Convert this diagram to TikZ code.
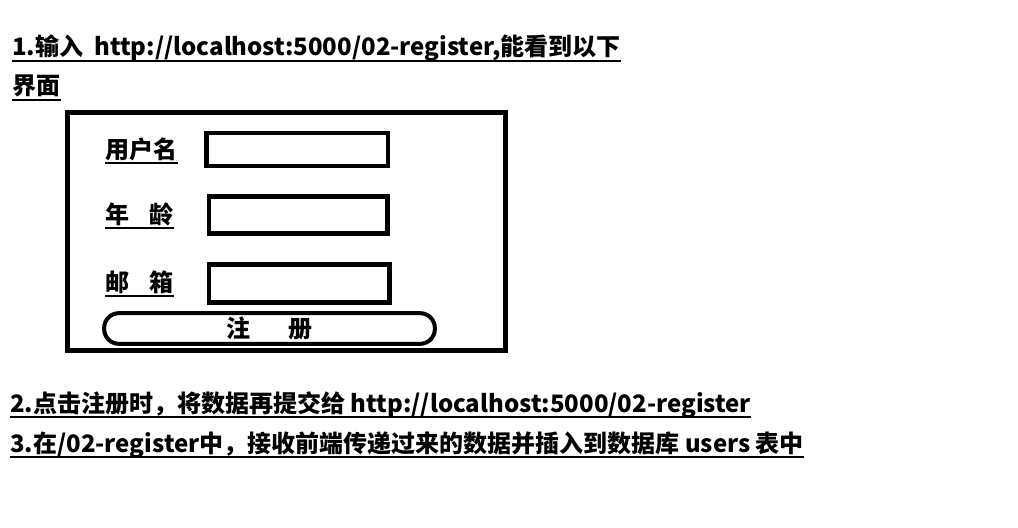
\documentclass[tikz,border=0pt]{standalone}
\usepackage{fontspec}
\setmainfont{Noto Sans CJK SC}
\begin{document}
\begin{tikzpicture}[x=0.75pt, y=-0.75pt,
    txt/.style={anchor=base west, inner sep=0pt, font=\bfseries\fontsize{18}{21}\selectfont},
    ul/.style={line width=2.2pt},
    field/.style={draw, line width=3.4pt},
    btn/.style={draw, line width=3pt, rounded corners=11pt, minimum width=248pt, minimum height=23pt, inner sep=0pt}]
\useasboundingbox (0,0) rectangle (1018,528);

\node[txt] (t1) at (12,56) {1.输入\ \ http://localhost:5000/02-register,能看到以下};
\node[txt] (t2) at (12,95) {界面};
\node[txt] (t3) at (10,412) {2.点击注册时，将数据再提交给 http://localhost:5000/02-register};
\node[txt] (t4) at (10,452) {3.在/02-register中，接收前端传递过来的数据并插入到数据库 users 表中};

% the form
\draw[line width=3.75pt] (67.5,112.5) rectangle (505.5,350.5);

\foreach \n/\y/\ltext in {l1/158/用户名, l2/223/年\hspace{0.85em}龄, l3/291/邮\hspace{0.85em}箱}
{
    \node[txt] (\n) at (105,\y) {\ltext};
}

\draw[field] (206.5,133) rectangle (388,166);
\draw[field] (209,196.5) rectangle (387.7,233.7);
\draw[field] (209,264.7) rectangle (389.4,302.7);

\node[btn, font=\bfseries\fontsize{18}{21}\selectfont] (reg) at (269.5,328.5) {注\hspace{1.6em}册};

\foreach \n in {t1,t2,t3,t4,l1,l2,l3}
{
    \draw[ul] ([yshift=-3.75pt]\n.base west) -- ([yshift=-3.75pt]\n.base east);
}

\end{tikzpicture}
\end{document}
